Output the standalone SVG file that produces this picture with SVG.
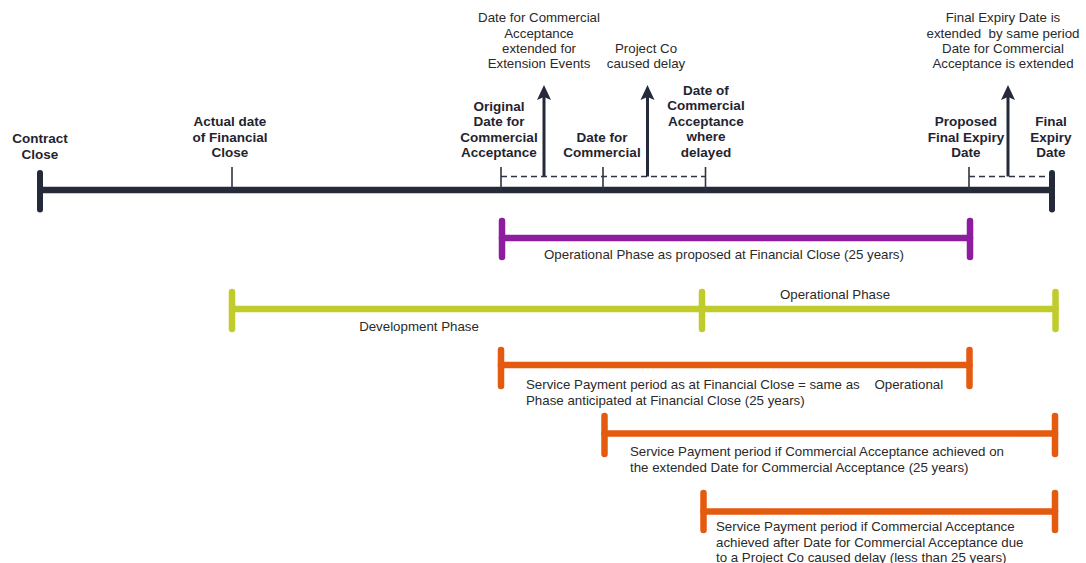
<svg xmlns="http://www.w3.org/2000/svg" width="1086" height="563" viewBox="0 0 1086 563">
<style>
  .bold { font-family: "Liberation Sans", Arial, sans-serif; font-weight: bold; font-size: 13.5px; fill: #1f2430; text-anchor: middle; }
  .lbl { font-family: "Liberation Sans", Arial, sans-serif; font-size: 13.3px; fill: #2a2a2a; text-anchor: middle; }
  .txt { font-family: "Liberation Sans", Arial, sans-serif; font-size: 13.3px; fill: #2a2a2a; }
  .main { stroke: #242a3a; stroke-width: 6.5; fill: none; }
  .cap { stroke: #242a3a; stroke-width: 6; stroke-linecap: round; fill: none; }
  .tick { stroke: #2e3442; stroke-width: 1.6; fill: none; }
  .dash { stroke: #2e3442; stroke-width: 1.6; stroke-dasharray: 6 4; fill: none; }
  .arrow { stroke: #242a3a; stroke-width: 3; fill: none; marker-end: url(#head); }
  .purple { stroke: #8d1c9f; stroke-width: 6.5; stroke-linecap: round; fill: none; }
  .green { stroke: #bfcc2b; stroke-width: 6.5; stroke-linecap: round; fill: none; }
  .orange { stroke: #e45a0e; stroke-width: 6.5; stroke-linecap: round; fill: none; }
</style>
<defs>
  <marker id="head" markerUnits="userSpaceOnUse" markerWidth="16" markerHeight="16" refX="8" refY="8" orient="auto">
    <path d="M0,1 L15,8 L0,15 L3,8 Z" fill="#242a3a"/>
  </marker>
</defs>

<g id="connectors">
  <!-- main timeline -->
  <line class="main" x1="40" y1="190" x2="1052" y2="190"/>
  <line class="cap" x1="40" y1="173" x2="40" y2="209.5"/>
  <line class="cap" x1="1052" y1="173" x2="1052" y2="209.5"/>
  <!-- ticks -->
  <line class="tick" x1="232" y1="167" x2="232" y2="190"/>
  <line class="tick" x1="501" y1="167" x2="501" y2="190"/>
  <line class="tick" x1="603" y1="167" x2="603" y2="190"/>
  <line class="tick" x1="705.5" y1="167" x2="705.5" y2="190"/>
  <line class="tick" x1="969" y1="167" x2="969" y2="190"/>
  <!-- dashed extensions -->
  <line class="dash" x1="501" y1="176.5" x2="705.5" y2="176.5"/>
  <line class="dash" x1="969" y1="176.5" x2="1052" y2="176.5"/>
  <!-- arrows -->
  <line class="arrow" x1="544" y1="176.5" x2="544" y2="92"/>
  <line class="arrow" x1="647.5" y1="176.5" x2="647.5" y2="92"/>
  <line class="arrow" x1="1008" y1="176.5" x2="1008" y2="92"/>
</g>

<g id="contract-close">
  <text class="bold" x="40" y="143">Contract</text>
  <text class="bold" x="40" y="158.5">Close</text>
</g>
<g id="financial-close">
  <text class="bold" x="230" y="126">Actual date</text>
  <text class="bold" x="230" y="141.5">of Financial</text>
  <text class="bold" x="230" y="157">Close</text>
</g>
<g id="original-dca">
  <text class="bold" x="499" y="110.5">Original</text>
  <text class="bold" x="499" y="126">Date for</text>
  <text class="bold" x="499" y="141.5">Commercial</text>
  <text class="bold" x="499" y="157">Acceptance</text>
</g>
<g id="extended-dca">
  <text class="bold" x="602" y="141.5">Date for</text>
  <text class="bold" x="602" y="157">Commercial</text>
</g>
<g id="delayed-dca">
  <text class="bold" x="706" y="94.5">Date of</text>
  <text class="bold" x="706" y="110">Commercial</text>
  <text class="bold" x="706" y="125.5">Acceptance</text>
  <text class="bold" x="706" y="141">where</text>
  <text class="bold" x="706" y="156.5">delayed</text>
</g>
<g id="proposed-expiry">
  <text class="bold" x="966" y="126">Proposed</text>
  <text class="bold" x="966" y="141.5">Final Expiry</text>
  <text class="bold" x="966" y="157">Date</text>
</g>
<g id="final-expiry">
  <text class="bold" x="1051" y="126">Final</text>
  <text class="bold" x="1051" y="141.5">Expiry</text>
  <text class="bold" x="1051" y="157">Date</text>
</g>

<g id="note-extension">
  <text class="lbl" x="539" y="22">Date for Commercial</text>
  <text class="lbl" x="539" y="37.5">Acceptance</text>
  <text class="lbl" x="539" y="52.5">extended for</text>
  <text class="lbl" x="539" y="67.5">Extension Events</text>
</g>
<g id="note-delay">
  <text class="lbl" x="646" y="52.5">Project Co</text>
  <text class="lbl" x="646" y="67.5">caused delay</text>
</g>
<g id="note-expiry">
  <text class="lbl" x="1003" y="22">Final Expiry Date is</text>
  <text class="lbl" x="1003" y="37.5" xml:space="preserve">extended  by same period</text>
  <text class="lbl" x="1003" y="52.5">Date for Commercial</text>
  <text class="lbl" x="1003" y="67.5">Acceptance is extended</text>
</g>

<g id="operational-proposed">
  <line class="purple" x1="502" y1="238" x2="970" y2="238"/>
  <line class="purple" x1="502" y1="221" x2="502" y2="257"/>
  <line class="purple" x1="970" y1="221" x2="970" y2="257"/>
  <text class="txt" x="544" y="259">Operational Phase as proposed at Financial Close (25 years)</text>
</g>

<g id="development-operational">
  <line class="green" x1="232" y1="309" x2="1055.5" y2="309"/>
  <line class="green" x1="232" y1="292" x2="232" y2="329"/>
  <line class="green" x1="702" y1="292" x2="702" y2="329"/>
  <line class="green" x1="1055.5" y1="292" x2="1055.5" y2="329"/>
  <text class="lbl" x="419" y="331">Development Phase</text>
  <text class="lbl" x="835" y="299">Operational Phase</text>
</g>

<g id="service-payment-fc">
  <line class="orange" x1="501" y1="365" x2="969.5" y2="365"/>
  <line class="orange" x1="501" y1="350" x2="501" y2="386"/>
  <line class="orange" x1="969.5" y1="350" x2="969.5" y2="386"/>
  <text class="txt" x="526" y="389" xml:space="preserve">Service Payment period as at Financial Close = same as    Operational</text>
  <text class="txt" x="526" y="405">Phase anticipated at Financial Close (25 years)</text>
</g>

<g id="service-payment-extended">
  <line class="orange" x1="604.5" y1="433.5" x2="1055" y2="433.5"/>
  <line class="orange" x1="604.5" y1="416" x2="604.5" y2="454"/>
  <line class="orange" x1="1055" y1="416" x2="1055" y2="454"/>
  <text class="txt" x="630" y="456">Service Payment period if Commercial Acceptance achieved on</text>
  <text class="txt" x="630" y="472">the extended Date for Commercial Acceptance (25 years)</text>
</g>

<g id="service-payment-delayed">
  <line class="orange" x1="703.5" y1="511.5" x2="1055" y2="511.5"/>
  <line class="orange" x1="703.5" y1="493" x2="703.5" y2="530"/>
  <line class="orange" x1="1055" y1="493" x2="1055" y2="530"/>
  <text class="txt" x="716" y="531">Service Payment period if Commercial Acceptance</text>
  <text class="txt" x="716" y="547">achieved after Date for Commercial Acceptance due</text>
  <text class="txt" x="716" y="562">to a Project Co caused delay (less than 25 years)</text>
</g>
</svg>
